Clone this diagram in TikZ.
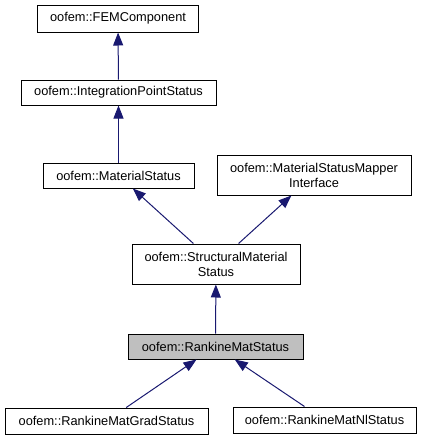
\documentclass[tikz,border=0pt]{standalone}
\usepackage{fontspec}
\setmainfont{Liberation Sans}
\usepackage{tikz}
\usetikzlibrary{arrows.meta}
\definecolor{cEdge}{HTML}{191970}
\definecolor{cSel}{HTML}{BFBFBF}

\begin{document}
\begin{tikzpicture}[x=1pt,y=1pt,
  cls/.style={draw=black,fill=white,line width=1pt,inner sep=0pt,align=center,
    font=\fontsize{12.8pt}{15pt}\selectfont,minimum height=25pt},
  inh/.style={-{Triangle[length=13pt,width=10pt]},cEdge,line width=1pt}]
  \useasboundingbox (0,0) rectangle (424,-440);
  \node[cls,minimum width=161pt,minimum height=27pt] (fem) at (118,-18.5) {oofem::FEMComponent};
  \node[cls,minimum width=195pt] (ips) at (118.5,-92.5) {oofem::IntegrationPointStatus};
  \node[cls,minimum width=151pt] (ms) at (118.5,-175.5) {oofem::MaterialStatus};
  \node[cls,minimum width=194pt,minimum height=40pt] (msmi) at (314,-175) {oofem::MaterialStatusMapper\\Interface};
  \node[cls,minimum width=168pt,minimum height=40pt] (sms) at (216,-264) {oofem::StructuralMaterial\\Status};
  \node[cls,minimum width=175pt,fill=cSel] (rms) at (215.5,-346.5) {oofem::RankineMatStatus};
  \node[cls,minimum width=203pt,minimum height=26pt] (rmgs) at (106.5,-421) {oofem::RankineMatGradStatus};
  \node[cls,minimum width=183pt,minimum height=26pt] (rmns) at (324.5,-420) {oofem::RankineMatNlStatus};
  \draw[inh] (ips) -- (fem);
  \draw[inh] (ms) -- (ips);
  \draw[inh] (sms) -- (ms);
  \draw[inh] (sms) -- (msmi);
  \draw[inh] (rms) -- (sms);
  \draw[inh] (rmgs) -- (rms);
  \draw[inh] (rmns) -- (rms);
\end{tikzpicture}
\end{document}
